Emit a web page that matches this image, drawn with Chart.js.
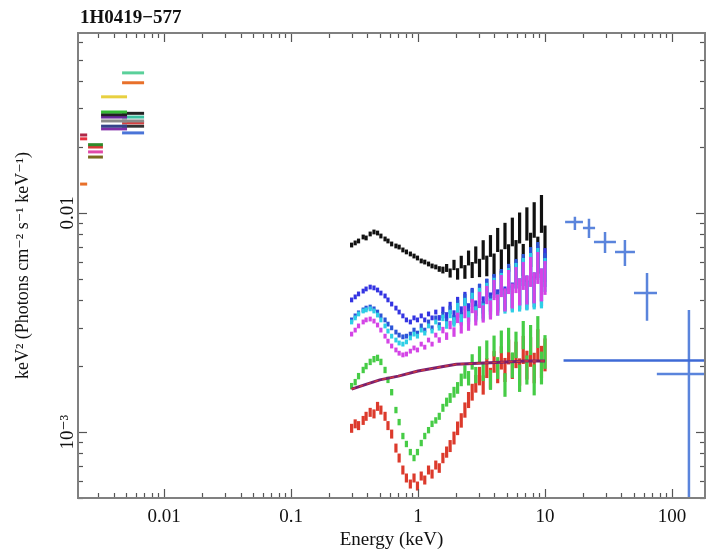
<!DOCTYPE html>
<html><head><meta charset="utf-8">
<script src="https://cdn.jsdelivr.net/npm/chart.js@4.4.0/dist/chart.umd.min.js"></script>
<style>html,body{margin:0;padding:0;background:#fff;}</style>
</head><body>
<canvas id="c" width="706" height="553" style="display:block;width:706px;height:553px"></canvas>
<script>
// ---------- DATA ----------
const titleText = '1H0419\u2212577';
const xTickLabels = {'-2':'0.01','-1':'0.1','0':'1','1':'10','2':'100'};
const yTickLabels = {'-2':'0.01','-3':'10\u207B\u00B3'};

// X-ray spectra energies (keV)
const energy = [0.30,0.32,0.34,0.37,0.39,0.42,0.45,0.48,0.51,0.55,0.58,0.62,0.67,0.71,0.76,0.81,0.87,0.93,0.99,1.06,1.13,1.21,1.29,1.38,1.47,1.57,1.68,1.79,1.92,2.05,2.19,2.34,2.50,2.67,2.85,3.05,3.26,3.48,3.72,3.97,4.24,4.53,4.84,5.17,5.53,5.91,6.31,6.74,7.20,7.70,8.22,8.78,9.38,10.0];

const fluxBlack = [0.00714,0.00730,0.00745,0.00777,0.00769,0.00802,0.00819,0.00810,0.00785,0.00761,0.00745,0.00722,0.00707,0.00699,0.00678,0.00664,0.00650,0.00636,0.00623,0.00604,0.00597,0.00585,0.00573,0.00567,0.00555,0.00549,0.00561,0.00532,0.00579,0.00527,0.00597,0.00538,0.00623,0.00549,0.00643,0.00561,0.00678,0.00573,0.00707,0.00579,0.00753,0.00597,0.00785,0.00623,0.00819,0.00643,0.00854,0.00610,0.00891,0.00678,0.00929,0.00643,0.00990,0.00714];

const fluxBlue = [0.00401,0.00414,0.00427,0.00440,0.00450,0.00459,0.00455,0.00445,0.00431,0.00418,0.00401,0.00384,0.00368,0.00353,0.00339,0.00325,0.00318,0.00332,0.00325,0.00339,0.00325,0.00346,0.00332,0.00353,0.00332,0.00361,0.00339,0.00376,0.00342,0.00392,0.00353,0.00409,0.00361,0.00422,0.00368,0.00436,0.00380,0.00455,0.00392,0.00469,0.00401,0.00484,0.00409,0.00505,0.00422,0.00521,0.00436,0.00538,0.00445,0.00561,0.00455,0.00597,0.00469,0.00579];

const fluxBlue2 = [0.00325,0.00339,0.00350,0.00361,0.00368,0.00372,0.00365,0.00353,0.00339,0.00325,0.00311,0.00299,0.00286,0.00277,0.00272,0.00274,0.00280,0.00292,0.00283,0.00305,0.00292,0.00318,0.00299,0.00332,0.00308,0.00342,0.00318,0.00361,0.00325,0.00380,0.00332,0.00401,0.00342,0.00418,0.00353,0.00436,0.00361,0.00455,0.00380,0.00474,0.00392,0.00494,0.00401,0.00516,0.00409,0.00538,0.00418,0.00561,0.00422,0.00597,0.00436,0.00623,0.00445,0.00549];

const fluxCyan = [0.00318,0.00332,0.00346,0.00357,0.00361,0.00365,0.00357,0.00342,0.00325,0.00305,0.00289,0.00274,0.00263,0.00255,0.00252,0.00258,0.00269,0.00280,0.00274,0.00292,0.00283,0.00305,0.00289,0.00318,0.00299,0.00332,0.00308,0.00346,0.00318,0.00368,0.00325,0.00384,0.00332,0.00401,0.00346,0.00418,0.00353,0.00436,0.00368,0.00455,0.00380,0.00474,0.00392,0.00494,0.00401,0.00516,0.00409,0.00538,0.00418,0.00561,0.00427,0.00585,0.00436,0.00521];

const fluxMagenta = [0.00280,0.00292,0.00305,0.00318,0.00325,0.00328,0.00321,0.00308,0.00292,0.00274,0.00260,0.00247,0.00237,0.00229,0.00225,0.00227,0.00234,0.00242,0.00237,0.00252,0.00244,0.00263,0.00252,0.00277,0.00263,0.00292,0.00274,0.00308,0.00286,0.00332,0.00299,0.00353,0.00311,0.00376,0.00332,0.00401,0.00346,0.00422,0.00361,0.00445,0.00380,0.00464,0.00401,0.00484,0.00418,0.00494,0.00436,0.00516,0.00445,0.00538,0.00455,0.00561,0.00469,0.00505];

const fluxGreen = [0.00162,0.00169,0.00180,0.00192,0.00200,0.00209,0.00215,0.00218,0.00209,0.00192,0.00173,0.00152,0.00126,0.00111,0.000959,0.000882,0.000810,0.000761,0.000810,0.000891,0.000959,0.00102,0.00109,0.00113,0.00118,0.00129,0.00137,0.00143,0.00152,0.00159,0.00173,0.00188,0.00176,0.00209,0.00182,0.00225,0.00188,0.00237,0.00173,0.00247,0.00196,0.00258,0.00164,0.00263,0.00202,0.00250,0.00176,0.00277,0.00192,0.00263,0.00173,0.00286,0.00196,0.00232];

const fluxRed = [0.00104,0.00109,0.00107,0.00113,0.00118,0.00123,0.00121,0.00131,0.00126,0.00118,0.00107,0.000979,0.000845,0.000761,0.000671,0.000617,0.000579,0.000617,0.000567,0.000630,0.000604,0.000671,0.000643,0.000707,0.000685,0.000761,0.000810,0.000863,0.000939,0.00104,0.00113,0.00126,0.00140,0.00152,0.00166,0.00180,0.00164,0.00196,0.00176,0.00209,0.00188,0.00218,0.00192,0.00232,0.00200,0.00225,0.00188,0.00237,0.00202,0.00232,0.00196,0.00250,0.00209,0.00225];

// model curve (0.3-10 keV)
const modelE = [0.3,0.4,0.5,0.7,1.0,1.5,2,3,5,7,10];
const modelF = [0.00157,0.00166,0.00173,0.00180,0.00190,0.00198,0.00204,0.00206,0.00209,0.00211,0.00211];

// hard X-ray (BAT) points with error ranges
const batE   = [17.2, 22.2, 29.7, 42.6, 63.6, 136];
const batElo = [14.4, 19.9, 24.3, 35.6, 50.2, 76];
const batEhi = [19.9, 24.8, 36.2, 51.1, 76.2, 195];
const batF   = [0.0091, 0.00855, 0.00738, 0.00664, 0.00431, 0.00184];
const batFlo = [0.00836, 0.00769, 0.00656, 0.00573, 0.00322, 0.0001];
const batFhi = [0.0096, 0.0094, 0.00819, 0.00753, 0.00532, 0.00361];
const batModelE = [14, 200];
const batModelF = [0.00212, 0.00212];

// optical/UV photometry: filter band ranges (keV) and fluxes
const uvBandLo = [0.00218, 0.00252, 0.00319, 0.00467];
const uvBandHi = [0.00248, 0.00330, 0.00511, 0.00696];
const uvBand = [0,0,0, 1,1,1,1, 2,2,2,2,2,2,2, 3,3,3,3,3,3,3,3];
const uvFlux = [0.0227,0.0218,0.01355, 0.0205,0.0200,0.0190,0.0180, 0.0339,0.0289,0.0281,0.0274,0.0263,0.0249,0.0242, 0.0436,0.0393,0.0285,0.0274,0.0263,0.0258,0.0249,0.0232];

// ---------- STYLES ----------
const uvColors = ['#b02848','#e83040','#e8702a', '#2f8a2a','#d83838','#e048a8','#7a6a20', '#e8d040','#34b834','#222222','#6a2a9a','#8a8a8a','#34448a','#8030a8', '#5ad09a','#e8702a','#222222','#3cc0a0','#8a8a8a','#d84040','#333333','#4a74d8'];
const SERIF = '"Liberation Serif","DejaVu Serif",serif';

function pts(arr){ return energy.map((e,i)=>({x:e, y:arr[i]})); }
function barR(base, grow){
  return (c)=>{ const E = c.raw ? c.raw.x : 1; return base + grow*Math.max(0, Math.log10(E/1.4)); };
}
function spec(label, arr, color, base, grow){
  return { label, data: pts(arr), showLine:false, pointStyle:'line', rotation:90,
    pointRadius: barR(base,grow), pointBorderColor:color, borderColor:color, pointBorderWidth:3.2, backgroundColor:color };
}

const datasets = [];
datasets.push({label:'model-dash', data: modelE.map((e,i)=>({x:e,y:modelF[i]})), showLine:true, pointRadius:0, borderColor:'#d23a3a', borderWidth:1.4, borderDash:[4,4]});
datasets.push({label:'model', data: modelE.map((e,i)=>({x:e,y:modelF[i]})), showLine:true, pointRadius:0, borderColor:'#7a1f6e', borderWidth:3});
datasets.push({label:'bat-model', data: batModelE.map((e,i)=>({x:e,y:batModelF[i]})), showLine:true, pointRadius:0, borderColor:'#3e6ad6', borderWidth:2.5});
const batPts = [];
batE.forEach((e,i)=>{
  batPts.push({x:batElo[i],y:batF[i]},{x:batEhi[i],y:batF[i]},{x:e,y:null});
  batPts.push({x:e,y:batFlo[i]},{x:e,y:batFhi[i]},{x:e,y:null});
});
datasets.push({label:'bat', data:batPts, showLine:true, spanGaps:false, pointRadius:0, borderColor:'#5a84dc', borderWidth:2.5});
uvFlux.forEach((f,i)=>{
  const b = uvBand[i];
  datasets.push({label:'uv'+i, data:[{x:uvBandLo[b],y:f},{x:uvBandHi[b],y:f}], showLine:true, pointRadius:0, borderColor:uvColors[i], borderWidth:3});
});
datasets.push(spec('magenta', fluxMagenta, '#d444e6', 2.4, 17));
datasets.push(spec('cyan', fluxCyan, '#2ecfe6', 2.4, 17));
datasets.push(spec('blue2', fluxBlue2, '#2c55d8', 2.4, 17));
datasets.push(spec('blue', fluxBlue, '#3434e2', 2.4, 17));
datasets.push(spec('green', fluxGreen, '#46cc46', 3.2, 16));
datasets.push(spec('red', fluxRed, '#dc3a2c', 4.5, 14));
datasets.push(spec('black', fluxBlack, '#111111', 2.4, 20));

const frame = {
  id:'frame',
  afterDatasetsDraw(chart){
    const {ctx, chartArea:a, scales:{x,y}} = chart;
    ctx.save();
    ctx.strokeStyle = '#555'; ctx.lineWidth = 1.2;
    const ln = (x1,y1,x2,y2)=>{ ctx.beginPath(); ctx.moveTo(x1,y1); ctx.lineTo(x2,y2); ctx.stroke(); };
    for (let k=-4;k<=3;k++) for (let m=1;m<=9;m++){
      const v = m*Math.pow(10,k);
      if (v>=x.min && v<=x.max){
        const px = Math.round(x.getPixelForValue(v))+0.5, L = m===1?9:5;
        ln(px,a.bottom,px,a.bottom-L); ln(px,a.top,px,a.top+L);
      }
      if (v>=y.min && v<=y.max){
        const py = Math.round(y.getPixelForValue(v))+0.5, L = m===1?9:5;
        ln(a.left,py,a.left+L,py); ln(a.right,py,a.right-L,py);
      }
    }
    ctx.strokeStyle = '#808080'; ctx.lineWidth = 2;
    ctx.strokeRect(a.left, a.top, a.right-a.left, a.bottom-a.top);
    ctx.fillStyle = '#111'; ctx.font = 'bold 19px '+SERIF; ctx.textBaseline='alphabetic'; ctx.textAlign='left';
    ctx.fillText(titleText, 80, 23);
    ctx.restore();
  }
};

new Chart(document.getElementById('c'), {
  type:'scatter',
  data:{datasets},
  options:{
    responsive:false, animation:false, events:[],
    layout:{autoPadding:false, padding:{top:33,right:1,left:0,bottom:0}},
    plugins:{legend:{display:false}, tooltip:{enabled:false}, title:{display:false}},
    scales:{
      x:{type:'logarithmic', min:0.0021, max:182,
        afterFit(s){ s.height = 55; s.paddingLeft = 0; s.paddingRight = 0; },
        grid:{display:false, drawTicks:false}, border:{display:false},
        ticks:{autoSkip:false, minRotation:0, maxRotation:0, padding:8, color:'#111', font:{family:SERIF, size:19},
          callback(v){ const l=Math.log10(v), r=Math.round(l); if (Math.abs(l-r)<1e-6 && xTickLabels[r]!==undefined) return xTickLabels[r]; return ''; }},
        title:{display:true, text:'Energy (keV)', color:'#111', font:{family:SERIF, size:19}, padding:{top:0,bottom:2}}
      },
      y:{type:'logarithmic', min:0.0005, max:0.0663,
        afterFit(s){ s.width = 78; s.paddingTop = 0; s.paddingBottom = 0; },
        grid:{display:false, drawTicks:false}, border:{display:false},
        ticks:{autoSkip:false, minRotation:90, maxRotation:90, crossAlign:'center', padding:-7, color:'#111', font:{family:SERIF, size:19},
          callback(v){ const l=Math.log10(v), r=Math.round(l); if (Math.abs(l-r)<1e-6 && yTickLabels[r]!==undefined) return yTickLabels[r]; return ''; }},
        title:{display:true, text:'keV\u00B2 (Photons cm\u207B\u00B2 s\u207B\u00B9 keV\u207B\u00B9)', color:'#111', font:{family:SERIF, size:18}, padding:{top:12,bottom:0}}
      }
    }
  },
  plugins:[frame]
});
</script>
</body></html>
